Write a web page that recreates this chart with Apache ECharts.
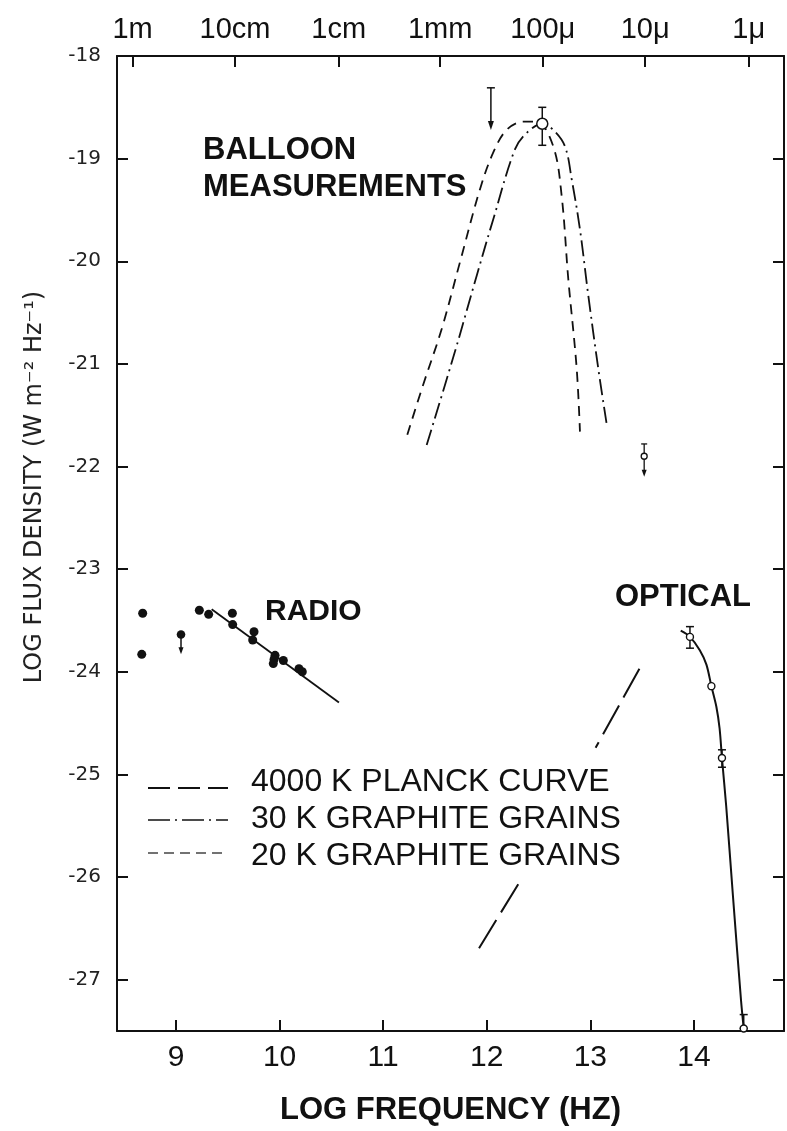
<!DOCTYPE html>
<html>
<head>
<meta charset="utf-8">
<script src="https://cdn.jsdelivr.net/npm/echarts@6/dist/echarts.min.js"></script>
<style>
html,body{margin:0;padding:0;background:#fff;}
#chart{width:787px;height:1131px;}
</style>
</head>
<body>
<div id="chart"></div>
<script>
// ---------- data ----------
const xTicks = [9, 10, 11, 12, 13, 14];
const yTicks = [-27, -26, -25, -24, -23, -22, -21, -20, -19, -18];
const topTickValues = [8.58, 9.57, 10.57, 11.55, 12.54, 13.53, 14.53];
const topTickLabels = ['1m', '10cm', '1cm', '1mm', '100\u03bc', '10\u03bc', '1\u03bc'];

// radio detections
const radioX = [8.678, 8.669, 9.225, 9.315, 9.544, 9.547, 9.753, 9.740, 9.956, 9.946, 9.939, 10.036, 10.187, 10.219];
const radioY = [-23.43, -23.83, -23.40, -23.44, -23.43, -23.54, -23.61, -23.69, -23.84, -23.88, -23.92, -23.89, -23.97, -24.00];
// radio upper limit [x, yTop, yTip]
const radioLimit = [[9.048, -23.636, -23.83]];
// radio power-law fit
const radioFitX = [9.344, 10.573];
const radioFitY = [-23.39, -24.30];

// 20 K graphite grains
const g20X = [11.233, 11.387, 11.565, 11.741, 11.934, 12.063, 12.192, 12.352, 12.482, 12.642, 12.723, 12.787, 12.868, 12.900];
const g20Y = [-21.69, -21.20, -20.66, -20.01, -19.30, -18.94, -18.72, -18.64, -18.64, -18.88, -19.36, -20.17, -21.04, -21.66];
// 30 K graphite grains
const g30X = [11.420, 11.693, 11.903, 12.063, 12.272, 12.385, 12.536, 12.642, 12.755, 12.820, 12.900, 12.980, 13.076, 13.163];
const g30Y = [-21.79, -20.88, -20.14, -19.59, -18.91, -18.75, -18.66, -18.72, -18.88, -19.20, -19.69, -20.33, -21.04, -21.62];

// balloon measurement [x, y, yLow, yHigh]
const balloonPoint = [[12.536, -18.66, -18.87, -18.50]];
// balloon upper limit [x, yTop, yTip]
const balloonLimit = [[12.04, -18.31, -18.72]];

// 4000 K Planck curve (two visible pieces)
const planckUpperX = [13.474, 13.051];
const planckUpperY = [-23.97, -24.74];
const planckLowerX = [12.304, 11.903];
const planckLowerY = [-26.07, -26.73];

// optical points [x, y] and error bars [x, yLow, yHigh]
const opticalX = [13.962, 14.169, 14.271, 14.481];
const opticalY = [-23.66, -24.14, -24.84, -27.475];
const opticalErr = [[13.962, -23.77, -23.56], [14.271, -24.93, -24.76], [14.481, -27.475, -27.34]];
// optical curve
const optCurveX = [13.873, 13.962, 14.057, 14.121, 14.169, 14.217, 14.248, 14.271, 14.312, 14.376, 14.455, 14.481];
const optCurveY = [-23.60, -23.66, -23.79, -23.93, -24.14, -24.34, -24.55, -24.84, -25.31, -26.17, -27.20, -27.475];

// near-IR limit point [x, y, yCap, yTip]
const irLimit = [[13.52, -21.90, -21.78, -22.10]];

// ---------- helpers ----------
const zip = (xs, ys) => xs.map((x, i) => [x, ys[i]]);
const BLACK = '#111';

function errRender(params, api) {
  const x = api.value(0);
  const p1 = api.coord([x, api.value(1)]);
  const p2 = api.coord([x, api.value(2)]);
  const w = 4;
  return {
    type: 'group',
    children: [
      {type: 'line', shape: {x1: p1[0], y1: p1[1], x2: p2[0], y2: p2[1]}, style: {stroke: BLACK, lineWidth: 1.5}},
      {type: 'line', shape: {x1: p1[0] - w, y1: p1[1], x2: p1[0] + w, y2: p1[1]}, style: {stroke: BLACK, lineWidth: 1.5}},
      {type: 'line', shape: {x1: p2[0] - w, y1: p2[1], x2: p2[0] + w, y2: p2[1]}, style: {stroke: BLACK, lineWidth: 1.5}}
    ]
  };
}
function arrowRender(params, api) {
  const x = api.value(0);
  const p1 = api.coord([x, api.value(1)]);
  const p2 = api.coord([x, api.value(2)]);
  const w = 4, h = 9;
  return {
    type: 'group',
    children: [
      {type: 'line', shape: {x1: p1[0], y1: p1[1], x2: p2[0], y2: p2[1] - h + 1}, style: {stroke: BLACK, lineWidth: 1.5}},
      {type: 'line', shape: {x1: p1[0] - w, y1: p1[1], x2: p1[0] + w, y2: p1[1]}, style: {stroke: BLACK, lineWidth: 1.5}},
      {type: 'polygon', shape: {points: [[p2[0] - 3, p2[1] - h], [p2[0] + 3, p2[1] - h], [p2[0], p2[1]]]}, style: {fill: BLACK}}
    ]
  };
}
function radioArrowRender(params, api) {
  const x = api.value(0);
  const p1 = api.coord([x, api.value(1)]);
  const p2 = api.coord([x, api.value(2)]);
  const h = 7;
  return {
    type: 'group',
    children: [
      {type: 'line', shape: {x1: p1[0], y1: p1[1], x2: p2[0], y2: p2[1] - h + 1}, style: {stroke: BLACK, lineWidth: 1.5}},
      {type: 'polygon', shape: {points: [[p2[0] - 2.5, p2[1] - h], [p2[0] + 2.5, p2[1] - h], [p2[0], p2[1]]]}, style: {fill: BLACK}},
      {type: 'circle', shape: {cx: p1[0], cy: p1[1], r: 4.3}, style: {fill: BLACK}}
    ]
  };
}
function irRender(params, api) {
  const x = api.value(0);
  const pc = api.coord([x, api.value(1)]);
  const pt = api.coord([x, api.value(2)]);
  const pb = api.coord([x, api.value(3)]);
  const h = 7, r = 3;
  return {
    type: 'group',
    children: [
      {type: 'line', shape: {x1: pt[0], y1: pt[1], x2: pc[0], y2: pc[1] - r}, style: {stroke: BLACK, lineWidth: 1.3}},
      {type: 'line', shape: {x1: pt[0] - 3, y1: pt[1], x2: pt[0] + 3, y2: pt[1]}, style: {stroke: BLACK, lineWidth: 1.3}},
      {type: 'line', shape: {x1: pc[0], y1: pc[1] + r, x2: pb[0], y2: pb[1] - h + 1}, style: {stroke: BLACK, lineWidth: 1.3}},
      {type: 'polygon', shape: {points: [[pb[0] - 2.5, pb[1] - h], [pb[0] + 2.5, pb[1] - h], [pb[0], pb[1]]]}, style: {fill: BLACK}},
      {type: 'circle', shape: {cx: pc[0], cy: pc[1], r: r}, style: {fill: '#fff', stroke: BLACK, lineWidth: 1.3}}
    ]
  };
}

const chart = echarts.init(document.getElementById('chart'), null, {renderer: 'canvas'});

const axisLineStyle = {color: BLACK, width: 2};
const labelFont = 'Liberation Sans, Arial, sans-serif';

const option = {
  backgroundColor: '#fff',
  animation: false,
  grid: {left: 117, right: 3, top: 56, bottom: 94, containLabel: false},
  xAxis: [
    {
      type: 'value', position: 'bottom', min: 8.43, max: 14.87,
      axisLine: {show: true, onZero: false, lineStyle: axisLineStyle},
      axisTick: {show: true, inside: true, length: 11, lineStyle: {color: BLACK, width: 2}, customValues: xTicks},
      axisLabel: {show: true, customValues: xTicks, fontSize: 30, color: BLACK, margin: 12, fontFamily: labelFont},
      splitLine: {show: false},
      name: 'LOG FREQUENCY (HZ)', nameLocation: 'middle', nameGap: 64,
      nameTextStyle: {fontSize: 31, fontWeight: 'bold', color: BLACK, fontFamily: labelFont}
    },
    {
      type: 'value', position: 'top', min: 8.43, max: 14.87,
      axisLine: {show: true, onZero: false, lineStyle: axisLineStyle},
      axisTick: {show: true, inside: true, length: 11, lineStyle: {color: BLACK, width: 2}, customValues: topTickValues},
      axisLabel: {
        show: true, customValues: topTickValues, fontSize: 29, color: BLACK, margin: 12, fontFamily: labelFont,
        formatter: function (v) {
          let best = 0;
          topTickValues.forEach((t, i) => { if (Math.abs(t - v) < Math.abs(topTickValues[best] - v)) best = i; });
          return topTickLabels[best];
        }
      },
      splitLine: {show: false}
    }
  ],
  yAxis: [
    {
      type: 'value', position: 'left', min: -27.5, max: -18,
      axisLine: {show: true, onZero: false, lineStyle: axisLineStyle},
      axisTick: {show: true, inside: true, length: 11, lineStyle: {color: BLACK, width: 2}, customValues: yTicks},
      axisLabel: {show: true, customValues: yTicks, fontSize: 20, color: '#222', margin: 16, fontFamily: 'DejaVu Sans, sans-serif'},
      splitLine: {show: false}
    },
    {
      type: 'value', position: 'right', min: -27.5, max: -18,
      axisLine: {show: true, onZero: false, lineStyle: axisLineStyle},
      axisTick: {show: true, inside: true, length: 11, lineStyle: {color: BLACK, width: 2}, customValues: yTicks},
      axisLabel: {show: false},
      splitLine: {show: false}
    }
  ],
  series: [
    {
      name: 'radio', type: 'scatter', symbol: 'circle', symbolSize: 9,
      itemStyle: {color: BLACK, opacity: 1}, data: zip(radioX, radioY), z: 5
    },
    {
      name: 'radio limit', type: 'custom', renderItem: radioArrowRender, data: radioLimit, z: 5
    },
    {
      name: 'radio fit', type: 'line', data: zip(radioFitX, radioFitY), symbol: 'none',
      lineStyle: {color: BLACK, width: 1.8}
    },
    {
      name: '20 K GRAPHITE GRAINS', type: 'line', data: zip(g20X, g20Y), symbol: 'none', smooth: 0.35,
      lineStyle: {color: BLACK, width: 1.8, type: [10, 7]}
    },
    {
      name: '30 K GRAPHITE GRAINS', type: 'line', data: zip(g30X, g30Y), symbol: 'none', smooth: 0.35,
      lineStyle: {color: BLACK, width: 1.8, type: [16, 5, 2, 5]}
    },
    {
      name: 'balloon err', type: 'custom', renderItem: function (params, api) {
        return errRender(params, {value: (i) => api.value([0, 2, 3][i]), coord: api.coord});
      }, data: balloonPoint, z: 6
    },
    {
      name: 'balloon', type: 'scatter', symbol: 'circle', symbolSize: 11,
      itemStyle: {color: '#fff', borderColor: BLACK, borderWidth: 1.5, opacity: 1},
      data: balloonPoint.map(d => [d[0], d[1]]), z: 7
    },
    {
      name: 'balloon limit', type: 'custom', renderItem: arrowRender, data: balloonLimit, z: 6
    },
    {
      name: '4000 K PLANCK CURVE', type: 'line', data: zip(planckUpperX, planckUpperY), symbol: 'none',
      lineStyle: {color: BLACK, width: 2, type: [33, 9]}
    },
    {
      name: '4000 K PLANCK CURVE b', type: 'line', data: zip(planckLowerX, planckLowerY), symbol: 'none',
      lineStyle: {color: BLACK, width: 2, type: [33, 9]}
    },
    {
      name: 'optical curve', type: 'line', data: zip(optCurveX, optCurveY), symbol: 'none', smooth: 0.3,
      lineStyle: {color: BLACK, width: 2}
    },
    {
      name: 'optical err', type: 'custom', renderItem: errRender, data: opticalErr, z: 6
    },
    {
      name: 'optical', type: 'scatter', symbol: 'circle', symbolSize: 7,
      itemStyle: {color: '#fff', borderColor: BLACK, borderWidth: 1.4, opacity: 1},
      data: zip(opticalX, opticalY), z: 7
    },
    {
      name: 'ir limit', type: 'custom', renderItem: irRender, data: irLimit, z: 6
    }
  ],
  graphic: [
    {type: 'text', x: 35, y: 487, rotation: Math.PI / 2,
     style: {text: 'LOG FLUX DENSITY (W m\u207b\u00b2 Hz\u207b\u00b9)', font: '24px DejaVu Sans, sans-serif', fill: '#222', align: 'center', verticalAlign: 'middle'}},
    {type: 'text', left: 203, top: 132, style: {text: 'BALLOON\nMEASUREMENTS', font: 'bold 31px Liberation Sans, Arial, sans-serif', fill: BLACK, lineHeight: 37}},
    {type: 'text', left: 265, top: 597, style: {text: 'RADIO', font: 'bold 30px Liberation Sans, Arial, sans-serif', fill: BLACK}},
    {type: 'text', left: 615, top: 582, style: {text: 'OPTICAL', font: 'bold 31px Liberation Sans, Arial, sans-serif', fill: BLACK}},
    {type: 'line', shape: {x1: 148, y1: 788, x2: 228, y2: 788}, style: {stroke: BLACK, lineWidth: 2.2, lineDash: [22, 8]}},
    {type: 'line', shape: {x1: 148, y1: 820, x2: 228, y2: 820}, style: {stroke: BLACK, lineWidth: 1.6, lineDash: [22, 5, 2, 5]}},
    {type: 'line', shape: {x1: 148, y1: 853, x2: 228, y2: 853}, style: {stroke: '#444', lineWidth: 1.6, lineDash: [10, 6]}},
    {type: 'text', left: 251, top: 766, style: {text: '4000 K PLANCK CURVE', font: '32px Liberation Sans, Arial, sans-serif', fill: BLACK}},
    {type: 'text', left: 251, top: 803, style: {text: '30 K GRAPHITE GRAINS', font: '32px Liberation Sans, Arial, sans-serif', fill: BLACK}},
    {type: 'text', left: 251, top: 840, style: {text: '20 K GRAPHITE GRAINS', font: '32px Liberation Sans, Arial, sans-serif', fill: BLACK}}
  ]
};
chart.setOption(option);
</script>
</body>
</html>
